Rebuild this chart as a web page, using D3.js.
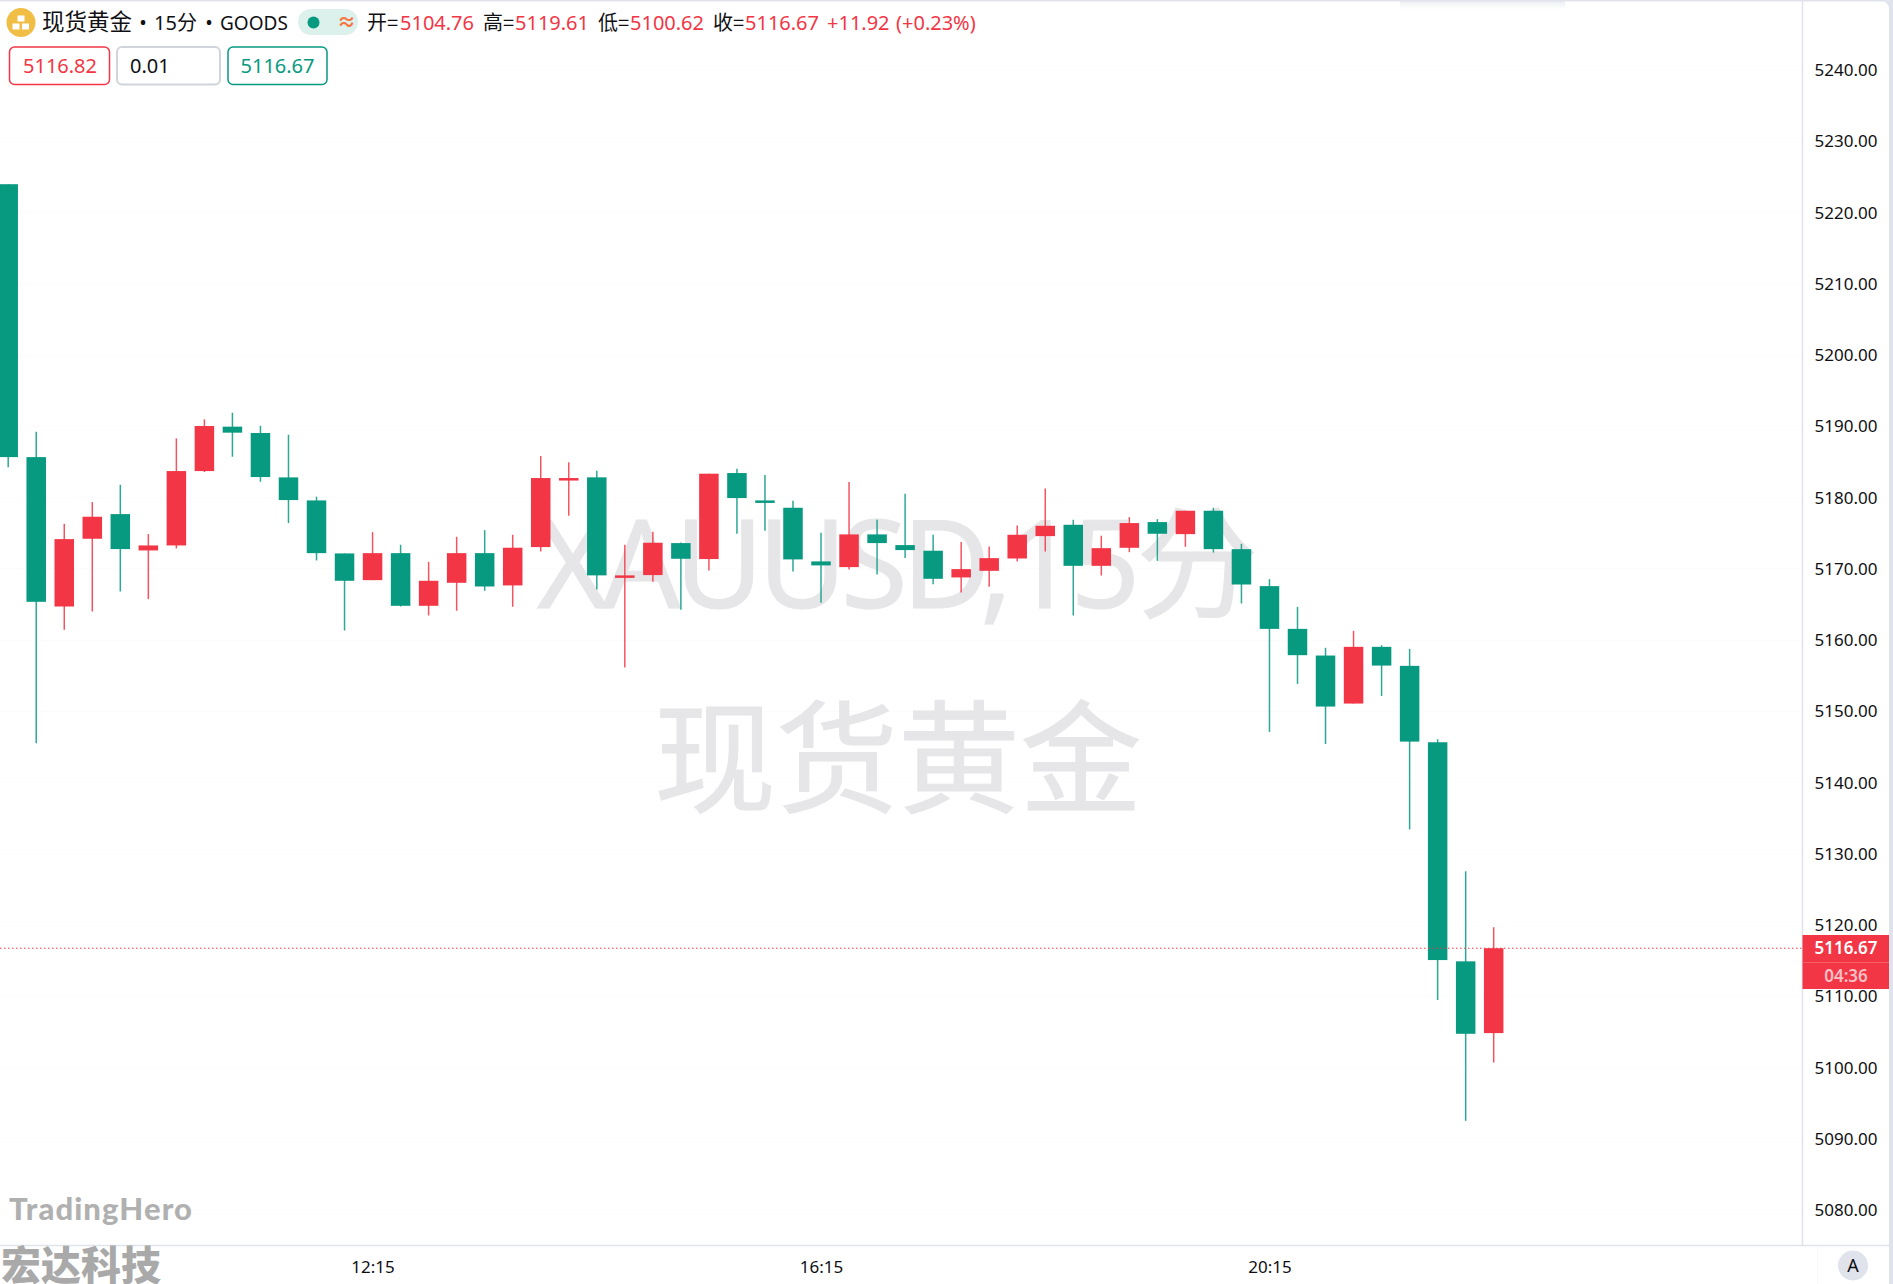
<!DOCTYPE html>
<html><head><meta charset="utf-8">
<script src="https://cdnjs.cloudflare.com/ajax/libs/d3/7.8.5/d3.min.js"></script>
<style>html,body{margin:0;padding:0;background:#fff;overflow:hidden}svg{display:block}text{font-family:"Noto Sans","Noto Sans CJK SC",sans-serif}</style>
</head><body><svg id="c" width="1893" height="1284"></svg>
<script>
const times=["09:00","09:15","09:30","09:45","10:00","10:15","10:30","10:45","11:00","11:15","11:30","11:45","12:00","12:15","12:30","12:45","13:00","13:15","13:30","13:45","14:00","14:15","14:30","14:45","15:00","15:15","15:30","15:45","16:00","16:15","16:30","16:45","17:00","17:15","17:30","17:45","18:00","18:15","18:30","18:45","19:00","19:15","19:30","19:45","20:00","20:15","20:30","20:45","21:00","21:15","21:30","21:45","22:00","22:15"];
const open=[5223.9,5185.6,5164.63,5174.14,5177.6,5172.5,5173.2,5183.64,5189.87,5188.98,5182.75,5179.52,5172.08,5168.33,5172.12,5164.73,5167.96,5172.12,5167.59,5172.97,5182.57,5182.76,5168.85,5169.04,5173.53,5171.29,5183.36,5179.52,5178.49,5170.96,5170.16,5174.75,5173.25,5172.46,5168.71,5169.64,5171.37,5174.51,5176.1,5170.34,5172.87,5176.48,5174.79,5178.07,5172.68,5167.49,5161.49,5157.75,5151.01,5158.97,5156.3,5145.58,5114.83,5104.76];
const high=[5223.9,5189.17,5176.24,5179.29,5181.72,5174.79,5188.23,5190.9,5191.83,5190.0,5188.74,5180.04,5172.08,5175.07,5173.3,5170.9,5174.42,5175.35,5174.7,5185.75,5184.86,5183.69,5173.3,5175.12,5173.6,5183.27,5183.97,5183.08,5179.48,5174.98,5182.1,5176.81,5180.46,5174.7,5173.67,5173.06,5176.01,5181.2,5176.8,5174.56,5177.18,5176.9,5178.07,5178.49,5173.43,5168.47,5164.58,5158.83,5161.21,5159.2,5158.68,5146.0,5127.47,5119.61];
const low=[5184.16,5145.44,5161.36,5163.93,5166.74,5165.66,5172.78,5183.5,5185.65,5182.14,5176.34,5171.1,5161.26,5168.33,5164.63,5163.37,5164.03,5166.83,5164.59,5172.36,5177.37,5167.03,5156.07,5168.1,5164.17,5169.69,5174.84,5175.26,5169.55,5165.15,5169.83,5169.13,5171.43,5167.77,5166.6,5167.39,5170.95,5172.36,5163.37,5168.98,5172.26,5171.04,5173.01,5172.21,5165.05,5147.03,5153.77,5145.34,5151.01,5152.08,5133.35,5109.39,5092.44,5100.62];
const close=[5185.6,5165.29,5174.09,5177.23,5172.69,5173.2,5183.64,5189.96,5189.03,5182.8,5179.57,5172.12,5168.24,5172.12,5164.73,5168.24,5172.12,5167.44,5172.88,5182.66,5182.66,5169.0,5169.0,5173.58,5171.33,5183.27,5179.85,5179.38,5171.24,5170.4,5174.75,5173.53,5172.55,5168.52,5169.88,5171.42,5174.7,5175.96,5170.34,5172.82,5176.34,5174.84,5178.07,5172.68,5167.72,5161.49,5157.8,5150.59,5158.97,5156.34,5145.67,5115.01,5104.66,5116.67];
const priceTicks=[5080,5090,5100,5110,5120,5130,5140,5150,5160,5170,5180,5190,5200,5210,5220,5230,5240];
const timeTicks=["12:15","16:15","20:15"];
const lastPrice=5116.67, countdown="04:36";
const legendValues=[["开=","5104.76"],["高=","5119.61"],["低=","5100.62"],["收=","5116.67"]];

const UP="#f23645",DOWN="#089981",GREY="#e0e3eb",INK="#0f0f14";
const svg=d3.select("#c");
const y=d3.scaleLinear().domain([5080,5120]).range([1209.5,924.5]);
const x=d3.scalePoint().domain(times).range([8.2,1493.7]);
const plotR=1802.5,plotB=1245.5,axisR=1889;

const defs=svg.append("defs");
const sh=defs.append("linearGradient").attr("id","sh").attr("x1",0).attr("x2",0).attr("y1",0).attr("y2",1);
sh.append("stop").attr("offset",0).attr("stop-color","#dfe2ea").attr("stop-opacity",.6);
sh.append("stop").attr("offset",1).attr("stop-color","#dfe2ea").attr("stop-opacity",0);
svg.append("rect").attr("x",1400).attr("y",1).attr("width",165).attr("height",8).attr("fill","url(#sh)");

// faint grid
svg.append("g").selectAll("line").data(priceTicks).join("line")
 .attr("x1",0).attr("x2",plotR).attr("y1",d=>Math.round(y(d))+.5).attr("y2",d=>Math.round(y(d))+.5).attr("stroke","#fcfcfc");

// watermarks
const wm=svg.append("g").attr("fill","#e6e6e8").attr("stroke","#e6e6e8").attr("stroke-width",1);
const wm1=wm.append("text").attr("x",537).attr("y",608).attr("font-size",122);
wm1.append("tspan").attr("letter-spacing",-6).text("XAUUSD,15");
wm1.append("tspan").attr("dx",2).text("分");
wm.append("text").attr("x",898).attr("y",803).attr("text-anchor","middle").attr("font-size",122).style("font-family",'"Noto Sans CJK SC"').text("现货黄金");

// candles
const idx=d3.range(times.length);
const colr=i=>close[i]>=open[i]?UP:DOWN;
const g=svg.append("g");
g.selectAll("line").data(idx).join("line")
 .attr("x1",i=>x(times[i])).attr("x2",i=>x(times[i]))
 .attr("y1",i=>y(high[i])).attr("y2",i=>y(low[i]))
 .attr("stroke",colr).attr("stroke-width",1.5).attr("stroke-opacity",.85);
g.selectAll("rect").data(idx).join("rect")
 .attr("x",i=>x(times[i])-9.75).attr("width",19.5)
 .attr("y",i=>y(Math.max(open[i],close[i])))
 .attr("height",i=>Math.max(2.5,Math.abs(y(open[i])-y(close[i]))))
 .attr("fill",colr);

// last price line
svg.append("line").attr("x1",0).attr("x2",plotR-1).attr("y1",y(lastPrice)).attr("y2",y(lastPrice))
 .attr("stroke",UP).attr("stroke-width",1).attr("stroke-dasharray","1.5 2.5");

// frame
svg.append("rect").attr("x",0).attr("y",0).attr("width",1893).attr("height",1.5).attr("fill",GREY);
svg.append("rect").attr("x",plotR-.75).attr("y",0).attr("width",1.5).attr("height",plotB).attr("fill",GREY);
svg.append("rect").attr("x",0).attr("y",plotB-.75).attr("width",axisR).attr("height",1.5).attr("fill",GREY);
svg.append("rect").attr("x",axisR).attr("y",0).attr("width",4).attr("height",1284).attr("fill",GREY);
svg.append("path").attr("d",`M${axisR-7},1.5H${axisR}V8.5A7,7 0 0 0 ${axisR-7},1.5Z`).attr("fill",GREY);
svg.append("rect").attr("x",1817).attr("y",plotB).attr("width",1).attr("height",40).attr("fill","#f7f8fa");

// price axis
const ya=svg.append("g").attr("transform",`translate(1846,0)`)
 .call(d3.axisRight(y).tickValues(priceTicks).tickSize(0).tickPadding(0).tickFormat(d3.format(".2f")));
ya.select(".domain").remove();
ya.selectAll("text").attr("text-anchor","middle").attr("dy",".36em").attr("fill",INK).attr("font-size",17).style("font-family",'"Noto Sans"');

// time axis
const xa=svg.append("g").attr("transform",`translate(0,1266.5)`)
 .call(d3.axisBottom(x).tickValues(timeTicks).tickSize(0).tickPadding(0));
xa.select(".domain").remove();
xa.selectAll("text").attr("dy",".36em").attr("y",0).attr("fill",INK).attr("font-size",17).style("font-family",'"Noto Sans"');

// price label
svg.append("rect").attr("x",plotR).attr("y",935).attr("width",axisR-plotR).attr("height",54).attr("fill",UP);
svg.append("rect").attr("x",plotR).attr("y",962).attr("width",axisR-plotR).attr("height",1).attr("fill","#f55f6c");
svg.append("text").attr("x",1846).attr("y",y(lastPrice)).attr("dy",".36em").attr("text-anchor","middle").attr("fill","#fff").attr("font-size",17).attr("font-weight",600).text(d3.format(".2f")(lastPrice));
svg.append("text").attr("x",1846).attr("y",976).attr("dy",".36em").attr("text-anchor","middle").attr("fill","#fbc0c5").attr("font-size",17).attr("font-weight",600).text(countdown);

// A badge
svg.append("circle").attr("cx",1853).attr("cy",1265.5).attr("r",15).attr("fill",GREY);
svg.append("text").attr("x",1853).attr("y",1265.5).attr("dy",".36em").attr("text-anchor","middle").attr("font-size",18).attr("fill",INK).text("A");

// legend
const L=svg.append("g");
L.append("circle").attr("cx",21).attr("cy",22.5).attr("r",14.5).attr("fill","#f0bd45");
L.append("g").attr("fill","#fff").selectAll("rect").data([[17.5,15.5],[12.5,23.5],[22,23.5]]).join("rect")
 .attr("x",d=>d[0]).attr("y",d=>d[1]).attr("width",7).attr("height",6);
const T=(x,txt,fill,size=20,yy=30)=>L.append("text").attr("x",x).attr("y",yy).attr("fill",fill).attr("font-size",size).text(txt);
T(42,"现货黄金",INK,22.5).style("font-family",'"Noto Sans CJK SC"');
T(143,"•",INK,20).attr("text-anchor","middle");
T(154,"15分",INK,20);
T(209,"•",INK,20).attr("text-anchor","middle");
T(220,"GOODS",INK,19);
L.append("rect").attr("x",298).attr("y",9).attr("width",60).attr("height",26).attr("rx",13).attr("fill","#dcf0ec");
L.append("circle").attr("cx",313.5).attr("cy",22.5).attr("r",6).attr("fill",DOWN);
T(337,"≈","#f7743f",19,29).attr("font-weight",700);
const lx=[367,483,598,713], vx=[400,515,630,745];
legendValues.forEach((d,i)=>{T(lx[i],d[0],INK).style("font-family",'"Noto Sans CJK SC"');T(vx[i],d[1],UP);});
T(827,"+11.92",UP);
T(896,"(+0.23%)",UP);

// buttons
const btn=[[9.5,100,UP,1.5],[117,103,"#d1d4dc",2],[228,99,DOWN,1.5]];
btn.forEach(b=>{
 L.append("rect").attr("x",b[0]).attr("y",47).attr("width",b[1]).attr("height",37.5).attr("rx",5).attr("fill","#fff").attr("stroke",b[2]).attr("stroke-width",b[3]);
});
T(23,"5116.82",UP,20,72.5);T(130,"0.01",INK,20,72.5);T(240.5,"5116.67",DOWN,20,72.5);

// brand marks
svg.append("text").attr("x",9).attr("y",1220).attr("font-size",31).attr("font-weight",900).attr("textLength",183).attr("fill","#b0b0b0").style("font-family","Lato").text("TradingHero");
svg.append("text").attr("x",1).attr("y",1280).attr("font-size",40).attr("font-weight",900).attr("fill","#a9a9a9").style("font-family",'"Noto Sans CJK SC"').text("宏达科技");
</script></body></html>
